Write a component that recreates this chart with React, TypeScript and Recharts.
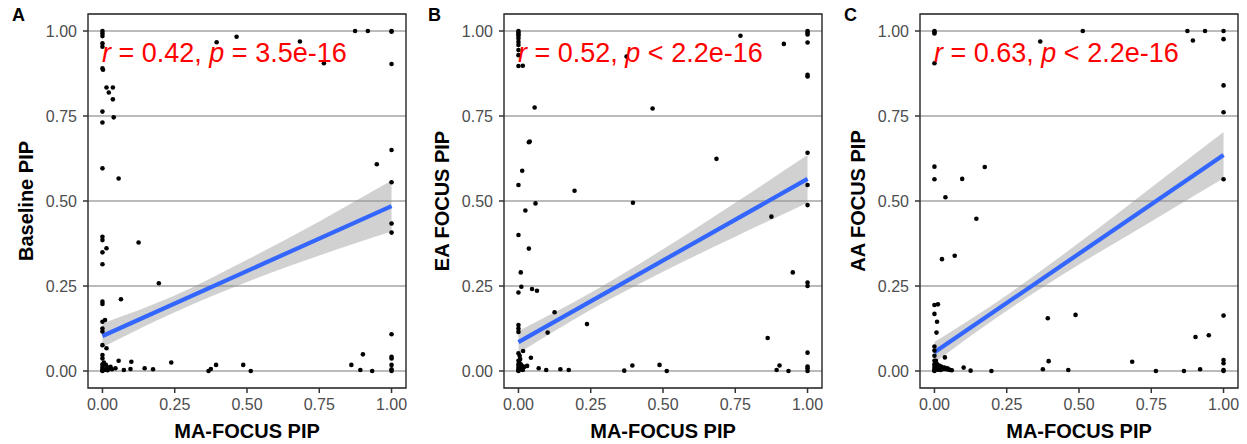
import React from "react";
import {
  ComposedChart,
  Scatter,
  Line,
  Area,
  XAxis,
  YAxis,
  CartesianGrid,
  ReferenceArea,
} from "recharts";

// tick values shared by all panels
const xTicks = [0, 0.25, 0.5, 0.75, 1];
const yTicks = [0, 0.25, 0.5, 0.75, 1];

const panelLetters = ["A", "B", "C"];
const yLabels = ["Baseline PIP", "EA FOCUS PIP", "AA FOCUS PIP"];
const xLabel = "MA-FOCUS PIP";
const corrR = ["0.42", "0.52", "0.63"];
const corrP = ["= 3.5e-16", "< 2.2e-16", "< 2.2e-16"];

type Pt = [number, number];

const pointsA: Pt[] = [
  [0, 1], [0, 0.993], [0, 0.985], [0, 0.964], [0, 0.954], [0, 0.89], [0.002, 0.886],
  [0, 0.763], [0, 0.731], [0, 0.596], [0, 0.395], [0, 0.385], [0, 0.349], [0, 0.314],
  [0, 0.204], [0, 0.197], [0, 0.145], [0, 0.125], [0, 0.116], [0, 0.076], [0, 0.047],
  [0, 0.037], [0, 0.02], [0, 0.012], [0, 0.006], [0, 0.002], [0, 0],
  [0.014, 0.834], [0.022, 0.819], [0.036, 0.834], [0.036, 0.799], [0.039, 0.746],
  [0.056, 0.566], [0.014, 0.361], [0.009, 0.15], [0.014, 0.067], [0.064, 0.211],
  [0.125, 0.378], [0.195, 0.258],
  [0.395, 0.967], [0.464, 0.983], [0.683, 0.969], [0.766, 0.905], [0.874, 1], [0.918, 1],
  [1, 1], [1, 0.998], [1, 0.903], [1, 0.65], [0.949, 0.608], [1, 0.555], [1, 0.434],
  [1, 0.407], [1, 0.108], [1, 0.042], [1, 0.037], [1, 0.018], [1, 0.005], [1, 0],
  [0.901, 0.049], [0.861, 0.018], [0.892, 0.003], [0.933, 0],
  [0.056, 0.03], [0.1, 0.027], [0.238, 0.025], [0.074, 0.003], [0.097, 0.006],
  [0.146, 0.008], [0.175, 0.005], [0.367, 0], [0.375, 0.006], [0.393, 0.018],
  [0.487, 0.018], [0.513, 0], [0.045, 0.008], [0.033, 0.005], [0.022, 0.01],
  [0.012, 0.018], [0.008, 0.004], [0.018, 0.002], [0.028, 0.012], [0.005, 0.025],
  [0.015, 0.008],
];

const pointsB: Pt[] = [
  [0, 1], [0, 0.995], [0, 0.99], [0, 0.985], [0, 0.978], [0, 0.968], [0, 0.959],
  [0, 0.944], [0, 0.929], [0, 0.897], [0, 0.547], [0, 0.4], [0, 0.231], [0, 0.135],
  [0, 0.125], [0, 0.115], [0, 0.052], [0, 0.03], [0, 0.02], [0, 0.012], [0, 0.006],
  [0, 0.002], [0, 0],
  [0.015, 0.898], [0.056, 0.775], [0.036, 0.673], [0.039, 0.675], [0.013, 0.589],
  [0.059, 0.493], [0.024, 0.472], [0.036, 0.36], [0.008, 0.29], [0.01, 0.248],
  [0.047, 0.241], [0.064, 0.236], [0.125, 0.173], [0.101, 0.113], [0.237, 0.138],
  [0.016, 0.059], [0.043, 0.039], [0.03, 0.015], [0.07, 0.008], [0.096, 0.003],
  [0.145, 0.005], [0.174, 0.003], [0.366, 0.001], [0.394, 0.016], [0.488, 0.018],
  [0.513, 0], [0.194, 0.53], [0.396, 0.495], [0.464, 0.772], [0.374, 0.925],
  [0.685, 0.624], [0.768, 0.986], [0.918, 0.962], [0.875, 0.454], [0.949, 0.29],
  [0.862, 0.097], [0.903, 0.016], [0.893, 0.003], [0.934, 0],
  [1, 1], [1, 0.995], [1, 0.99], [1, 0.966], [1, 0.871], [1, 0.866], [1, 0.642],
  [1, 0.547], [1, 0.488], [1, 0.26], [1, 0.25], [1, 0.054], [1, 0.013], [1, 0.008], [1, 0],
  [0.005, 0.01], [0.008, 0.02], [0.01, 0.005], [0.012, 0.015], [0.006, 0.035],
  [0.004, 0.045], [0.015, 0.003], [0.02, 0.012], [0.003, 0.025],
];

const pointsC: Pt[] = [
  [0, 1], [0, 0.997], [0, 0.993], [0, 0.905], [0, 0.601], [0, 0.564], [0, 0.194],
  [0, 0.168], [0, 0.072], [0, 0.06], [0, 0.045], [0, 0.03], [0, 0.02], [0, 0.012],
  [0, 0.006], [0, 0.002], [0, 0],
  [0.012, 0.196], [0.009, 0.145], [0.007, 0.113], [0.038, 0.511], [0.026, 0.329],
  [0.07, 0.339], [0.096, 0.565], [0.174, 0.6], [0.145, 0.448], [0.036, 0.04],
  [0.101, 0.01], [0.125, 0.001], [0.197, 0], [0.366, 0.969], [0.513, 1], [0.875, 1],
  [0.894, 0.972], [0.936, 1], [0.392, 0.155], [0.488, 0.165], [0.395, 0.029],
  [0.375, 0.005], [0.463, 0.003], [0.684, 0.027], [0.766, 0], [0.863, 0], [0.903, 0.1],
  [0.949, 0.105], [0.919, 0.005],
  [1, 1], [1, 0.976], [1, 0.84], [1, 0.761], [1, 0.564], [1, 0.163], [1, 0.032],
  [1, 0.023], [1, 0.003], [1, 0],
  [0.005, 0.03], [0.01, 0.02], [0.015, 0.01], [0.02, 0.008], [0.025, 0.012],
  [0.03, 0.006], [0.035, 0.01], [0.04, 0.005], [0.045, 0.008], [0.05, 0.004],
  [0.055, 0.003], [0.06, 0.002], [0.012, 0.004], [0.008, 0.012], [0.018, 0.015],
  [0.022, 0.003],
];

// fitted line end points (x = 0 and x = 1)
const fitA = [0.103, 0.485];
const fitB = [0.085, 0.565];
const fitC = [0.055, 0.635];

// confidence band read at these x positions
const bandX = [0, 0.25, 0.5, 0.75, 1];
const bandLowA = [0.07, 0.173, 0.262, 0.34, 0.41];
const bandHighA = [0.14, 0.222, 0.327, 0.44, 0.56];
const bandLowB = [0.052, 0.18, 0.292, 0.395, 0.495];
const bandHighB = [0.118, 0.23, 0.358, 0.495, 0.635];
const bandLowC = [0.025, 0.177, 0.313, 0.44, 0.567];
const bandHighC = [0.085, 0.223, 0.377, 0.54, 0.703];

const FONT = "'Liberation Sans', Arial, Helvetica, sans-serif";
const W = 416;
const H = 444;
const DOMAIN: [number, number] = [-0.05, 1.05];

interface PanelProps {
  index: number;
  points: Pt[];
  fit: number[];
  low: number[];
  high: number[];
}

function Panel({ index, points, fit, low, high }: PanelProps) {
  const scatterData = points.map(([x, y]) => ({ x, y }));
  const fitData = [
    { x: 0, fit: fit[0] },
    { x: 1, fit: fit[1] },
  ];
  const bandData = bandX.map((x, i) => ({ x, band: [low[i], high[i]] }));

  return (
    <div style={{ position: "absolute", left: index * W, top: 0, width: W, height: H }}>
      <ComposedChart
        width={W}
        height={H}
        margin={{ top: 14, right: 10, bottom: 0, left: 0 }}
        style={{ fontFamily: FONT }}
      >
        <CartesianGrid vertical={false} stroke="#a4a4a4" strokeWidth={1.6} />
        <XAxis
          type="number"
          dataKey="x"
          domain={DOMAIN}
          ticks={xTicks}
          allowDataOverflow
          tickFormatter={(v: number) => v.toFixed(2)}
          height={56}
          axisLine={false}
          tickLine={{ stroke: "#333", strokeWidth: 1.5 }}
          tickSize={5}
          tickMargin={6}
          tick={{ fill: "#4d4d4d", fontSize: 16 }}
          label={{
            content: (p: any) => (
              <text
                x={p.viewBox.x + p.viewBox.width / 2}
                y={p.viewBox.y + 50}
                textAnchor="middle"
                fontSize={20}
                fontWeight="bold"
                fill="#000"
              >
                {xLabel}
              </text>
            ),
          }}
        />
        <YAxis
          type="number"
          dataKey="y"
          domain={DOMAIN}
          ticks={yTicks}
          allowDataOverflow
          tickFormatter={(v: number) => v.toFixed(2)}
          width={88}
          axisLine={false}
          tickLine={{ stroke: "#333", strokeWidth: 1.5 }}
          tickSize={5}
          tickMargin={6}
          tick={{ fill: "#4d4d4d", fontSize: 16 }}
          label={{
            content: (p: any) => {
              const cy = p.viewBox.y + p.viewBox.height / 2;
              return (
                <text
                  transform={`translate(33, ${cy}) rotate(-90)`}
                  textAnchor="middle"
                  fontSize={20}
                  fontWeight="bold"
                  fill="#000"
                >
                  {yLabels[index]}
                </text>
              );
            },
          }}
        />
        <Scatter
          data={scatterData}
          isAnimationActive={false}
          shape={(p: any) => <circle cx={p.cx} cy={p.cy} r={2.3} fill="#000" />}
        />
        <Area
          data={bandData}
          dataKey="band"
          type="monotone"
          stroke="none"
          fill="#999999"
          fillOpacity={0.45}
          isAnimationActive={false}
          activeDot={false}
        />
        <Line
          data={fitData}
          dataKey="fit"
          stroke="#3366FF"
          strokeWidth={4.2}
          dot={false}
          activeDot={false}
          isAnimationActive={false}
        />
        <ReferenceArea
          x1={DOMAIN[0]}
          x2={DOMAIN[1]}
          y1={DOMAIN[0]}
          y2={DOMAIN[1]}
          fill="none"
          stroke="#333"
          strokeWidth={1.5}
          ifOverflow="visible"
        />
      </ComposedChart>
      <svg
        width={W}
        height={H}
        style={{ position: "absolute", left: 0, top: 0, pointerEvents: "none", fontFamily: FONT }}
      >
        <text x={12} y={21} fontSize={18} fontWeight="bold" fill="#000">
          {panelLetters[index]}
        </text>
        <text x={102} y={62} fontSize={27} fill="#FF0000">
          <tspan fontStyle="italic">r</tspan>
          {` = ${corrR[index]}, `}
          <tspan fontStyle="italic">p</tspan>
          {` ${corrP[index]}`}
        </text>
      </svg>
    </div>
  );
}

export default function App() {
  return (
    <div style={{ position: "absolute", left: 0, top: 0, width: 1247, height: 444, background: "#fff" }}>
      <Panel index={0} points={pointsA} fit={fitA} low={bandLowA} high={bandHighA} />
      <Panel index={1} points={pointsB} fit={fitB} low={bandLowB} high={bandHighB} />
      <Panel index={2} points={pointsC} fit={fitC} low={bandLowC} high={bandHighC} />
    </div>
  );
}
